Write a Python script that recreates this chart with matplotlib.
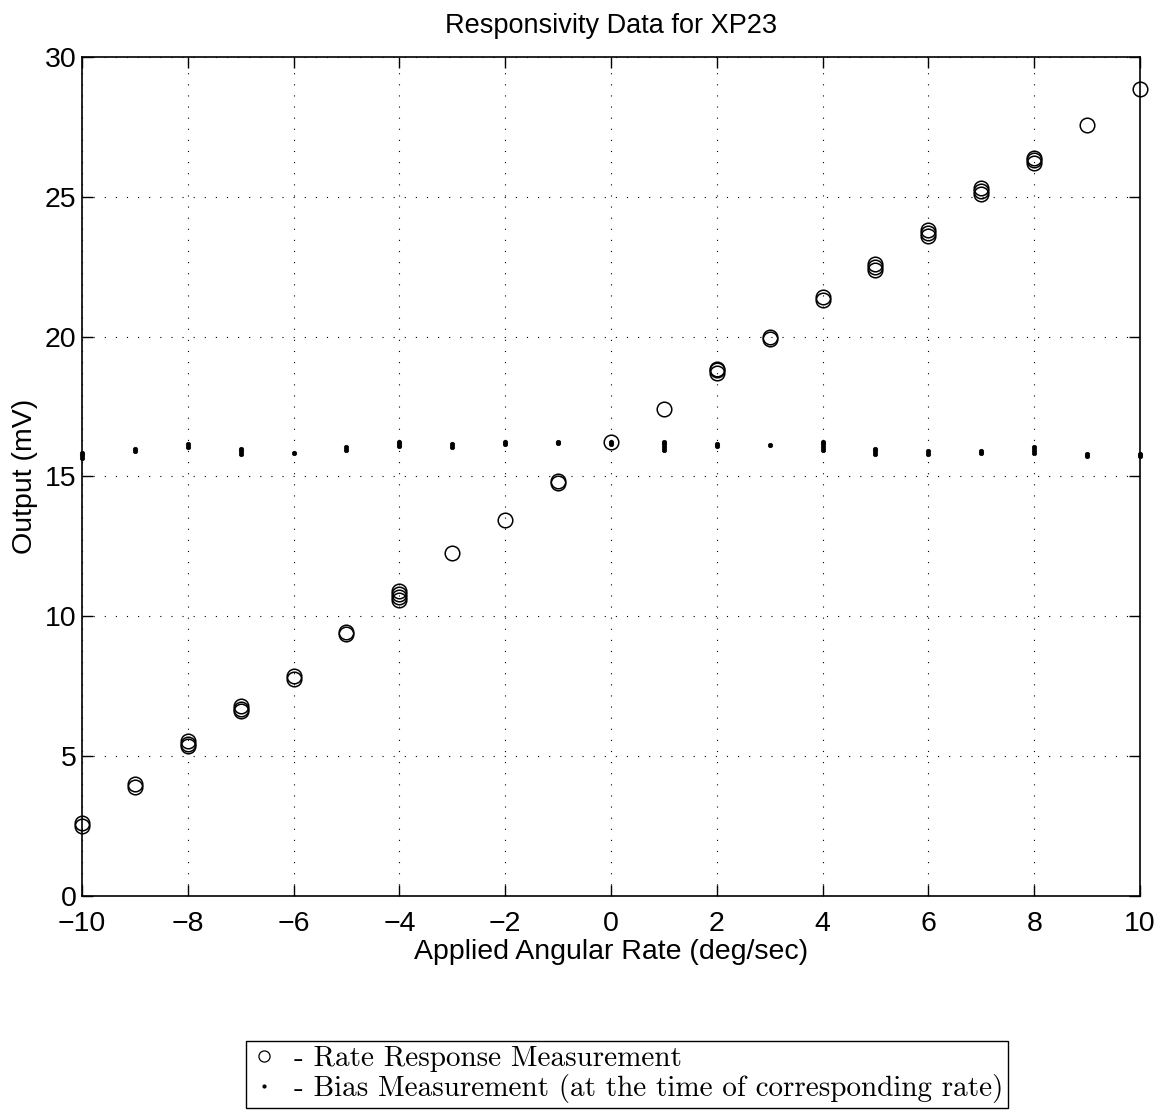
import matplotlib
matplotlib.use("Agg")
import matplotlib.pyplot as plt
from matplotlib.lines import Line2D

# ---- data ----
rate_x = [-10, -10, -9, -9, -8, -8, -8, -7, -7, -7, -6, -6, -5, -5,
          -4, -4, -4, -4, -3, -2, -1, -1, 0, 1, 2, 2, 2, 3, 3, 4, 4,
          5, 5, 5, 6, 6, 6, 7, 7, 7, 8, 8, 8, 9, 10]
rate_y = [2.50, 2.60, 3.90, 4.00, 5.35, 5.45, 5.55, 6.60, 6.70, 6.80,
          7.75, 7.85, 9.35, 9.45, 10.60, 10.70, 10.80, 10.90, 12.25,
          13.45, 14.75, 14.85, 16.25, 17.42, 18.70, 18.80, 18.85, 19.90,
          20.00, 21.30, 21.40, 22.40, 22.50, 22.60, 23.60, 23.70, 23.80,
          25.10, 25.20, 25.30, 26.20, 26.30, 26.40, 27.57, 28.85]

bias_x = [-10, -10, -10, -9, -9, -8, -8, -7, -7, -7, -6, -5, -5,
          -4, -4, -4, -3, -3, -2, -2, -1, -1, 0, 0, 1, 1, 1, 1,
          2, 2, 3, 4, 4, 4, 4, 5, 5, 5, 6, 6, 7, 7, 8, 8, 8, 9, 9, 10, 10]
bias_y = [15.65, 15.75, 15.85, 15.90, 16.00, 16.05, 16.15, 15.80, 15.90,
          16.00, 15.83, 15.95, 16.05, 16.08, 16.16, 16.24, 16.05, 16.15,
          16.15, 16.25, 16.18, 16.25, 16.15, 16.25, 15.95, 16.05, 16.15,
          16.25, 16.08, 16.16, 16.12, 15.95, 16.05, 16.15, 16.25, 15.82,
          15.90, 16.00, 15.82, 15.90, 15.85, 15.90, 15.85, 15.95, 16.05,
          15.72, 15.80, 15.72, 15.80]

x_ticks = [-10, -8, -6, -4, -2, 0, 2, 4, 6, 8, 10]
y_ticks = [0, 5, 10, 15, 20, 25, 30]

title = "Responsivity Data for XP23"
xlabel = "Applied Angular Rate (deg/sec)"
ylabel = "Output (mV)"
legend_labels = ["- Rate Response Measurement",
                 "- Bias Measurement (at the time of corresponding rate)"]

# ---- figure ----
plt.rcParams['font.family'] = ['Liberation Sans', 'DejaVu Sans']
fig = plt.figure(figsize=(11.66, 11.19), dpi=100)
ax = fig.add_axes([0.0703, 0.1993, 0.9074, 0.7498])

ax.plot(rate_x, rate_y, linestyle='none', marker='o', markersize=10.5,
        markerfacecolor='none', markeredgecolor='black', markeredgewidth=1.1,
        clip_on=False, zorder=3)
ax.plot(bias_x, bias_y, linestyle='none', marker='o', markersize=3.2,
        markerfacecolor='black', markeredgecolor='black', markeredgewidth=0.5,
        clip_on=False, zorder=3)

ax.set_xlim(-10, 10)
ax.set_ylim(0, 30)
ax.set_xticks(x_ticks)
ax.set_yticks(y_ticks)
ax.set_xticklabels([str(t).replace('-', '\u2212') for t in x_ticks])
ax.tick_params(direction='in', length=8, width=1, top=True, right=True,
               labelsize=20.5, colors='black')
ax.tick_params(axis='x', pad=11)
ax.tick_params(axis='y', pad=4)
ax.grid(True, color='black', linestyle=(0, (1, 9)), linewidth=0.8)
for s in ax.spines.values():
    s.set_linewidth(1.2)

ax.set_title(title, fontsize=19.5, pad=17)
ax.set_xlabel(xlabel, fontsize=20.5, labelpad=1)
ax.set_ylabel(ylabel, fontsize=20.5, labelpad=5)

handles = [Line2D([], [], linestyle='none', marker='o', markersize=8,
                  markerfacecolor='none', markeredgecolor='black',
                  markeredgewidth=0.9),
           Line2D([], [], linestyle='none', marker='o', markersize=2,
                  markerfacecolor='black', markeredgecolor='black')]
leg = fig.legend(handles, legend_labels, loc='center',
                 bbox_to_anchor=(0.538, 0.0398),
                 prop={'family': 'cmr10', 'size': 21},
                 frameon=True, fancybox=False, edgecolor='black',
                 framealpha=1, handlelength=0.9, handletextpad=0.6,
                 borderpad=0.15, labelspacing=0.08, borderaxespad=0)
leg.get_frame().set_linewidth(1.0)

fig.savefig("out.png", dpi=100)
